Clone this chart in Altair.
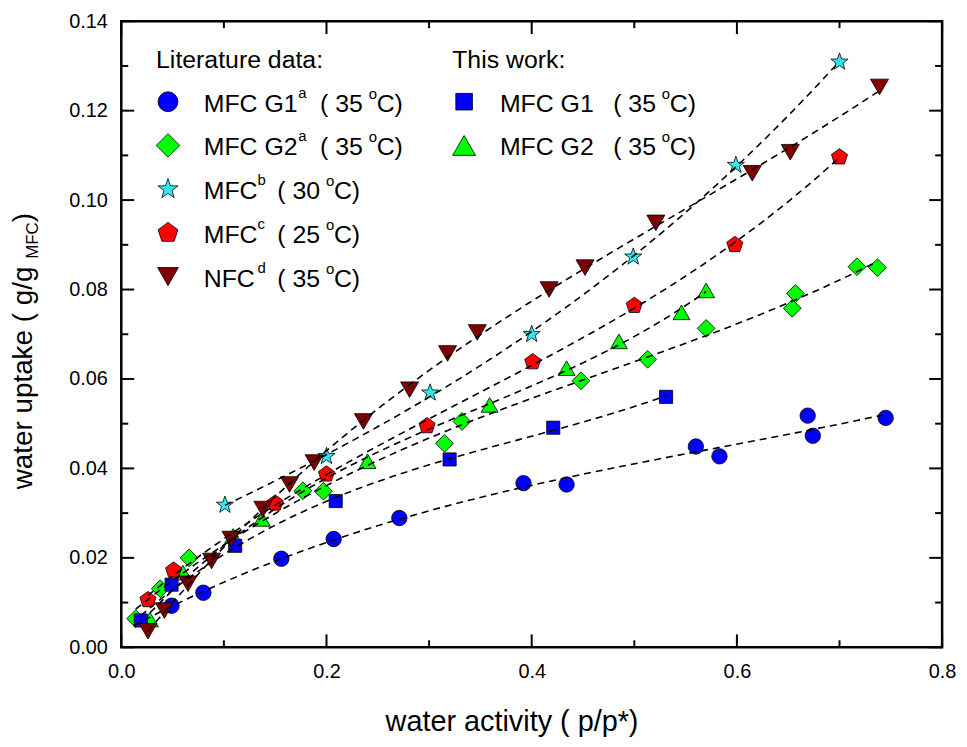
import altair as alt
import pandas as pd

FONT = "Liberation Sans"

# ---------------- data ----------------
g1_lit_x = [0.049, 0.080, 0.156, 0.207, 0.271, 0.392, 0.434, 0.560, 0.583, 0.669, 0.674, 0.745]
g1_lit_y = [0.0093, 0.0122, 0.0198, 0.0242, 0.0289, 0.0367, 0.0364, 0.0449, 0.0427, 0.0518, 0.0473, 0.0513]

g2_lit_x = [0.014, 0.038, 0.066, 0.177, 0.197, 0.315, 0.332, 0.448, 0.513, 0.570, 0.654, 0.657, 0.717, 0.737]
g2_lit_y = [0.0064, 0.0131, 0.0200, 0.0350, 0.0349, 0.0456, 0.0505, 0.0596, 0.0644, 0.0713, 0.0758, 0.0791, 0.0851, 0.0849]

mfcb_x = [0.101, 0.200, 0.301, 0.400, 0.499, 0.599, 0.700]
mfcb_y = [0.0318, 0.0427, 0.0569, 0.0700, 0.0873, 0.1078, 0.1309]

mfcc_x = [0.026, 0.051, 0.150, 0.200, 0.298, 0.401, 0.500, 0.598, 0.700]
mfcc_y = [0.0106, 0.0172, 0.0322, 0.0387, 0.0495, 0.0638, 0.0764, 0.0900, 0.1096]

nfcd_x = [0.026, 0.042, 0.065, 0.088, 0.107, 0.138, 0.164, 0.188, 0.236, 0.281, 0.318, 0.347,
          0.417, 0.452, 0.521, 0.615, 0.652, 0.739]
nfcd_y = [0.0036, 0.0082, 0.0142, 0.0193, 0.0242, 0.0309, 0.0364, 0.0413, 0.0505, 0.0576, 0.0657, 0.0704,
          0.0800, 0.0849, 0.0949, 0.1060, 0.1107, 0.1253]

g1_this_x = [0.019, 0.049, 0.111, 0.209, 0.320, 0.421, 0.531]
g1_this_y = [0.0060, 0.0140, 0.0227, 0.0327, 0.0420, 0.0491, 0.0560]

g2_this_x = [0.028, 0.060, 0.109, 0.137, 0.240, 0.359, 0.434, 0.485, 0.546, 0.570]
g2_this_y = [0.0062, 0.0167, 0.0249, 0.0287, 0.0416, 0.0542, 0.0624, 0.0684, 0.0749, 0.0798]

x_major = [0.0, 0.2, 0.4, 0.6, 0.8]
x_minor = [0.1, 0.3, 0.5, 0.7]
y_major = [0.00, 0.02, 0.04, 0.06, 0.08, 0.10, 0.12, 0.14]
y_minor = [0.01, 0.03, 0.05, 0.07, 0.09, 0.11, 0.13]

# ---------------- styling ----------------
W, H = 826, 630
STAR = ("M0,-1L0.235,-0.324L0.951,-0.309L0.380,0.124L0.588,0.809L0,0.4"
        "L-0.588,0.809L-0.380,0.124L-0.951,-0.309L-0.235,-0.324Z")
PENT = "M0,-1L0.951,-0.309L0.588,0.809L-0.588,0.809L-0.951,-0.309Z"

series = [
    # name, xs, ys, shape, fill, size, legend size
    ("g1_lit", g1_lit_x, g1_lit_y, "circle", "#0000ff", 240, 400),
    ("g2_lit", g2_lit_x, g2_lit_y, "diamond", "#00ff00", 320, 560),
    ("g2_this", g2_this_x, g2_this_y, "triangle-up", "#00ff00", 290, 530),
    ("g1_this", g1_this_x, g1_this_y, "square", "#0000ff", 175, 280),
    ("mfcb", mfcb_x, mfcb_y, STAR, "#33e6f0", 330, 450),
    ("mfcc", mfcc_x, mfcc_y, PENT, "#ff0000", 290, 440),
    ("nfcd", nfcd_x, nfcd_y, "triangle-down", "#800000", 330, 440),
]

X = alt.X("x:Q", scale=alt.Scale(domain=[0, 0.8], nice=False, zero=False),
          axis=alt.Axis(values=x_major, format=".1f", grid=False, ticks=False, domain=False,
                        labelFont=FONT, labelFontSize=20, labelColor="black", labelPadding=14,
                        labelFlush=False, title=None))
Y = alt.Y("y:Q", scale=alt.Scale(domain=[0, 0.14], nice=False, zero=False),
          axis=alt.Axis(values=y_major, format=".2f", grid=False, ticks=False, domain=False,
                        labelFont=FONT, labelFontSize=20, labelColor="black", labelPadding=14,
                        labelFlush=False, title=None))

layers = []


# inward tick marks on all four sides
def tick_layer(vals, axis, side, length):
    df = pd.DataFrame({axis: vals})
    ch = alt.Chart(df).mark_rule(color="black", strokeWidth=2)
    if axis == "x":
        if side == "bottom":
            return ch.encode(x=X, y=alt.value(H), y2=alt.value(H - length))
        return ch.encode(x=X, y=alt.value(0), y2=alt.value(length))
    if side == "left":
        return ch.encode(y=Y, x=alt.value(0), x2=alt.value(length))
    return ch.encode(y=Y, x=alt.value(W), x2=alt.value(W - length))


for side in ["bottom", "top"]:
    layers.append(tick_layer(x_major, "x", side, 13))
    layers.append(tick_layer(x_minor, "x", side, 7))
for side in ["left", "right"]:
    layers.append(tick_layer(y_major, "y", side, 13))
    layers.append(tick_layer(y_minor, "y", side, 7))

frames = {}
for name, xs, ys, shape, fill, size, lsize in series:
    frames[name] = pd.DataFrame({"x": xs, "y": ys})

# points
for name, xs, ys, shape, fill, size, lsize in series:
    layers.append(
        alt.Chart(frames[name]).mark_point(shape=shape, filled=True, fill=fill, stroke="black",
                                           strokeWidth=0.8, size=size, opacity=1)
        .encode(x=X, y=Y)
    )

# dashed fitted curves (drawn on top)
for name, xs, ys, shape, fill, size, lsize in series:
    if name == "g1_lit":
        reg = dict(extent=[0.012, max(xs)])
    else:
        reg = {}
    layers.append(
        alt.Chart(frames[name]).transform_regression("x", "y", method="poly", order=3, **reg)
        .mark_line(color="black", strokeWidth=1.6, strokeDash=[7, 5])
        .encode(x=X, y=Y)
    )

# ---------------- hand-made legend ----------------
OX, OY = 122, 19  # plot origin on the page

# Arial / Liberation Sans advance widths (per em)
AW = {" ": .278, "(": .333, ")": .333, "/": .278, "*": .389, "a": .556, "c": .5, "e": .556,
      "g": .556, "i": .222, "k": .5, "p": .556, "r": .333, "t": .278, "u": .556, "v": .5,
      "w": .722, "y": .5, "M": .833, "F": .611, "C": .722}


def tw(s, fs):
    return sum(AW.get(ch, .556) for ch in s) * fs


def txt(s, px, py, fs, **kw):
    return alt.Chart(alt.Data(values=[{}])).mark_text(
        text=s, font=FONT, fontSize=fs, align="left", baseline="alphabetic", color="black", **kw
    ).encode(x=alt.value(px - OX), y=alt.value(py - OY))


def sym(shape, fill, size, px, py):
    return alt.Chart(alt.Data(values=[{}])).mark_point(
        shape=shape, filled=True, fill=fill, stroke="black", strokeWidth=0.8, size=size, opacity=1
    ).encode(x=alt.value(px - OX), y=alt.value(py - OY))


lit_names = ["MFC G1", "MFC G2", "MFC", "MFC", "NFC"]
lit_sups = ["a", "a", "b", "c", "d"]
lit_temps = ["35", "35", "30", "25", "35"]
lit_keys = ["g1_lit", "g2_lit", "mfcb", "mfcc", "nfcd"]
this_names = ["MFC G1", "MFC G2"]
this_temps = ["35", "35"]
this_keys = ["g1_this", "g2_this"]
style = {s[0]: s for s in series}

LF = 25
layers.append(txt("Literature data:", 157, 66, LF))
layers.append(txt("This work:", 455, 66, LF))

for i, (nm, sp, tp, key) in enumerate(zip(lit_names, lit_sups, lit_temps, lit_keys)):
    base = 110 + 44 * i
    _, _, _, shape, fill, size, lsize = style[key]
    layers.append(sym(shape, fill, lsize, 169, base - 10))
    layers.append(txt(nm, 205, base, LF))
    sx = 300 if i < 2 else 259
    px = 322 if i < 2 else 279
    layers.append(txt(sp, sx, base - 14, 15))
    layers.append(txt("( " + tp, px, base, LF))
    layers.append(txt("o", px + 49, base - 13, 15))
    layers.append(txt("C)", px + 57, base, LF))

for i, (nm, tp, key) in enumerate(zip(this_names, this_temps, this_keys)):
    base = 110 + 44 * i
    _, _, _, shape, fill, size, lsize = style[key]
    layers.append(sym(shape, fill, lsize, 467, base - 10))
    layers.append(txt(nm, 503, base, LF))
    px = 617
    layers.append(txt("( " + tp, px, base, LF))
    layers.append(txt("o", px + 49, base - 13, 15))
    layers.append(txt("C)", px + 57, base, LF))

# ---------------- axis titles ----------------
TF = 29
layers.append(txt("water activity   ( p/p*)", 388, 733, TF))

# rotated y title, reading upward, built from pieces
YT_X, YT_Y = 32, 490
p1, p2, p3 = "water uptake  ( g/g", "MFC", "  )"
SF = 17
layers.append(txt(p1, YT_X, YT_Y, 28, angle=270))
y2 = YT_Y - tw(p1, 28)
layers.append(txt(p2, YT_X + 6, y2, SF, angle=270))
y3 = y2 - tw(p2, SF)
layers.append(txt(p3, YT_X, y3, 28, angle=270))

chart = alt.layer(*layers).properties(
    width=W, height=H,
    padding={"left": 114, "top": 11, "right": 17, "bottom": 90},
    autosize=alt.AutoSizeParams(type="none"),
).configure_view(stroke="black", strokeWidth=2.5)

chart.save("out.html", embed_options={"renderer": "svg", "actions": False})
